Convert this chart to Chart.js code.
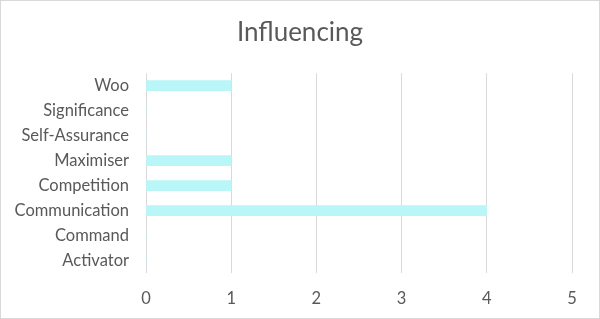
<!DOCTYPE html>
<html>
<head>
<meta charset="utf-8">
<script src="https://cdn.jsdelivr.net/npm/chart.js@4"></script>
<style>
  html, body { margin: 0; padding: 0; background: #fff; }
  #wrap { width: 600px; height: 319px; box-sizing: border-box; border: 1px solid #d9d9d9; }
</style>
</head>
<body>
<div id="wrap"><canvas id="chart" width="598" height="317"></canvas></div>
<script>
const categories = ['Woo', 'Significance', 'Self-Assurance', 'Maximiser', 'Competition', 'Communication', 'Command', 'Activator'];
const values = [1, 0, 0, 1, 1, 4, 0, 0];
const xTicks = [0, 1, 2, 3, 4, 5];

// centre the title across the whole canvas rather than the padded box
const centerTitle = {
  id: 'centerTitle',
  afterLayout(chart) {
    chart.titleBlock.left = 0;
    chart.titleBlock.right = chart.width;
    chart.titleBlock.width = chart.width;
  }
};

window.addEventListener('DOMContentLoaded', () => {
  const ctx = document.getElementById('chart');
  new Chart(ctx, {
    type: 'bar',
    data: {
      labels: categories,
      datasets: [{
        data: values,
        backgroundColor: '#b9f6f8',
        barThickness: 10
      }]
    },
    options: {
      indexAxis: 'y',
      responsive: false,
      animation: false,
      layout: { padding: { top: 4, right: 27, bottom: 0, left: 0 } },
      plugins: {
        legend: { display: false },
        tooltip: { enabled: false },
        title: {
          display: true,
          text: 'Influencing',
          color: '#595959',
          font: { family: 'Lato', size: 26, weight: 'normal' },
          padding: { top: 12, bottom: 25 }
        }
      },
      scales: {
        x: {
          min: 0,
          max: 5,
          afterBuildTicks: axis => { axis.ticks = xTicks.map(v => ({ value: v })); },
          afterFit: axis => { axis.height = 45; },
          grid: { color: '#d9d9d9', drawTicks: false },
          border: { display: false },
          ticks: { color: '#595959', padding: 16, font: { family: 'Lato', size: 16.5 } }
        },
        y: {
          afterFit: axis => { axis.width = 145; },
          grid: { display: false },
          border: { display: false },
          ticks: { color: '#595959', padding: 9, font: { family: 'Lato', size: 16.5 } }
        }
      }
    },
    plugins: [centerTitle]
  });
});
</script>
</body>
</html>
